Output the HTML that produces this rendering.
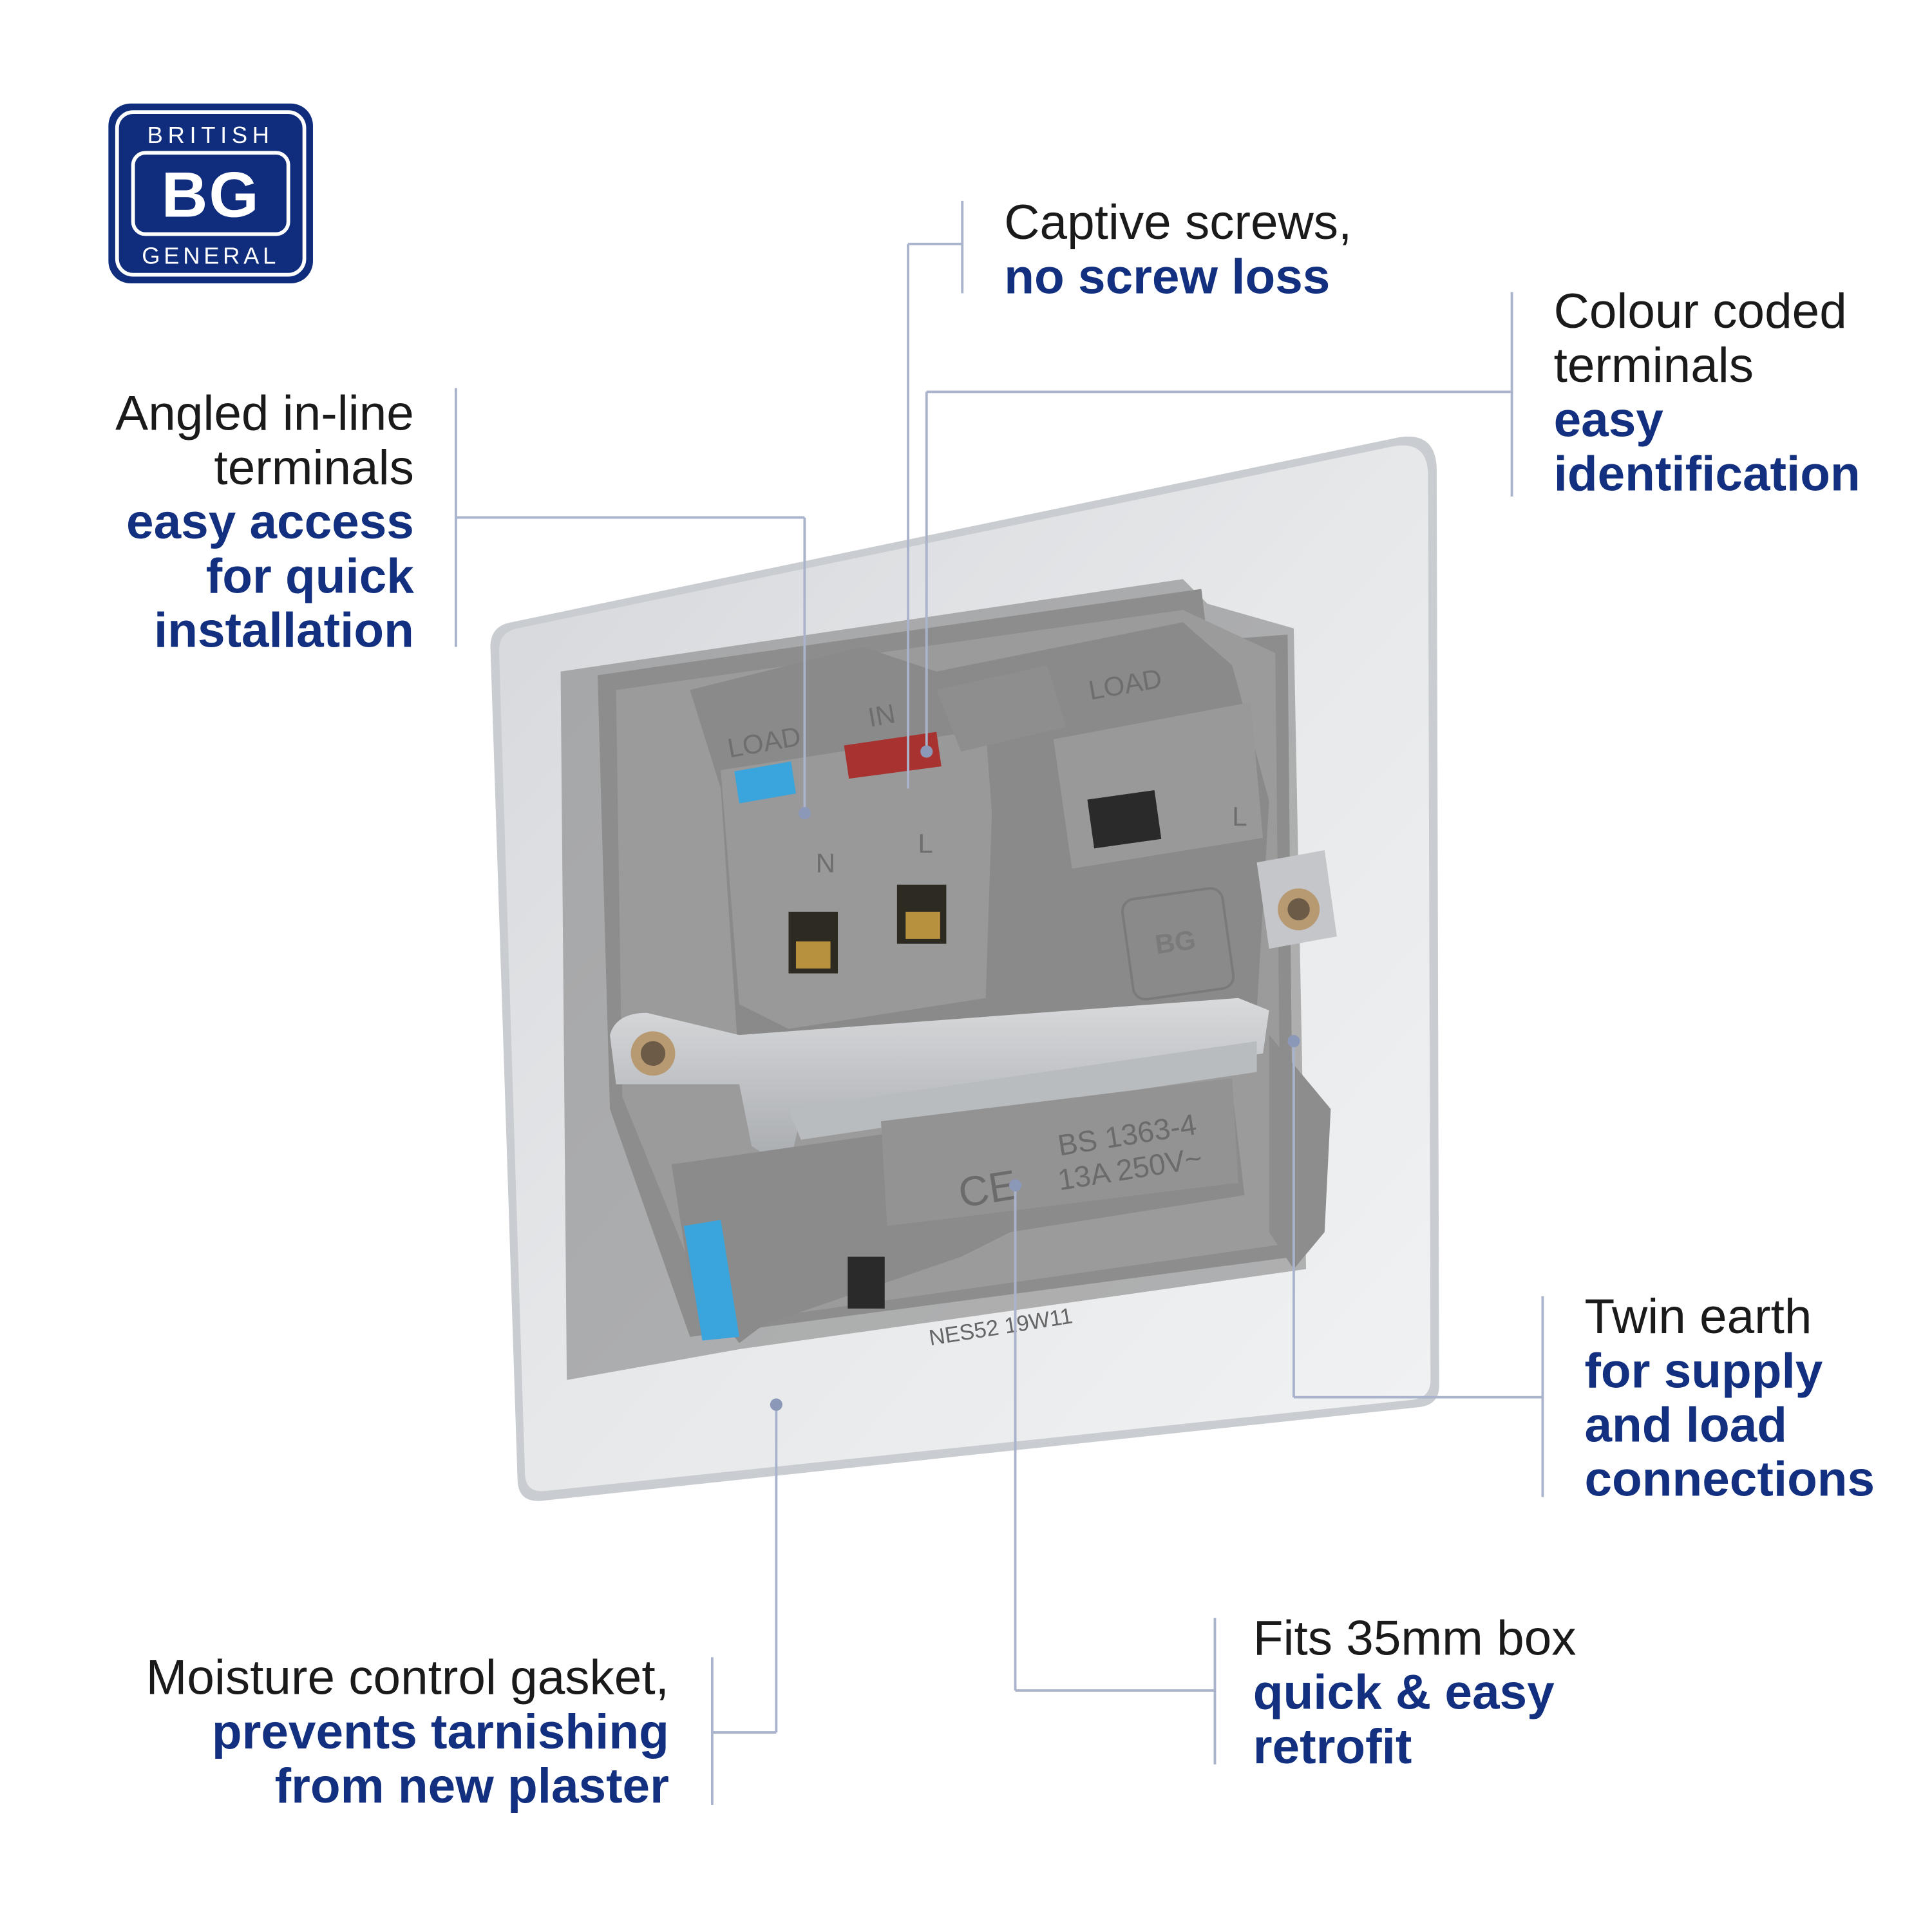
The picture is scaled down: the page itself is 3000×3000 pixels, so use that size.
<!DOCTYPE html>
<html><head><meta charset="utf-8"><style>
html,body{margin:0;padding:0;background:#fff;}
svg{display:block;}
text{font-family:"Liberation Sans",Arial,sans-serif;}
</style></head><body>
<svg width="3000" height="3000" viewBox="0 0 1568 1568" xmlns="http://www.w3.org/2000/svg">
<defs>
<linearGradient id="plate" x1="0" y1="0" x2="1" y2="1">
<stop offset="0" stop-color="#d4d6da"/><stop offset="0.5" stop-color="#e6e8ea"/><stop offset="1" stop-color="#f1f2f3"/>
</linearGradient>
<linearGradient id="metal" x1="0" y1="0" x2="0" y2="1">
<stop offset="0" stop-color="#d8dadc"/><stop offset="1" stop-color="#a6a9ad"/>
</linearGradient>
</defs>
<rect width="1568" height="1568" fill="#fff"/>

<!-- logo -->
<rect x="88" y="84" width="166" height="146" rx="18" fill="#0f2d7c"/>
<rect x="95" y="91" width="152" height="132" rx="13" fill="none" stroke="#fff" stroke-width="3"/>
<text x="171" y="116" font-size="19" fill="#fff" text-anchor="middle" letter-spacing="4">BRITISH</text>
<rect x="108" y="124" width="126" height="66" rx="10" fill="none" stroke="#fff" stroke-width="3"/>
<text x="171" y="176" font-size="52" font-weight="bold" fill="#fff" text-anchor="middle" letter-spacing="1">BG</text>
<text x="171" y="214" font-size="19" fill="#fff" text-anchor="middle" letter-spacing="3">GENERAL</text>

<!-- plate -->
<path d="M398 525 Q398 508 415 505 L1135 355 Q1165 350 1166 380 L1168 1125 Q1168 1140 1152 1142 L440 1218 Q420 1220 420 1200 Z" fill="#c9ccd0"/>
<path d="M405 528 Q405 513 420 510 L1132 362 Q1158 358 1159 384 L1161 1120 Q1161 1134 1147 1136 L443 1210 Q426 1212 426 1195 Z" fill="url(#plate)"/>
<path d="M455 545 L960 470 L980 490 L1050 510 L1060 1030 L600 1095 L460 1120 Z" fill="#7c7c7c" opacity="0.55"/>
<path d="M485 548 L975 478 L980 520 L1045 515 L1050 1020 L560 1085 L495 900 Z" fill="#8d8d8d"/>
<path d="M500 560 L960 495 L1035 530 L1040 1010 L580 1075 L505 890 Z" fill="#9b9b9b"/>
<path d="M560 560 L700 525 L760 545 L960 505 L1000 540 L1030 650 L1020 820 L720 880 L600 870 L585 640 Z" fill="#8a8a8a"/>
<path d="M585 625 L800 592 L805 660 L800 810 L640 835 L600 815 Z" fill="#999"/>
<path d="M760 560 L850 540 L865 590 L780 610 Z" fill="#8e8e8e"/>
<path d="M855 600 L1015 570 L1025 680 L870 705 Z" fill="#999"/>
<rect x="885" y="645" width="55" height="40" fill="#2a2a2a" transform="rotate(-8 912 665)"/>
<path d="M596 626 L642 618 L646 644 L600 652 Z" fill="#3aa4dc"/>
<path d="M685 605 L760 594 L764 622 L689 632 Z" fill="#a8322f"/>
<rect x="640" y="740" width="40" height="50" fill="#2d2a22"/>
<rect x="728" y="718" width="40" height="48" fill="#2d2a22"/>
<rect x="735" y="740" width="28" height="22" fill="#b8913e"/>
<rect x="646" y="764" width="28" height="22" fill="#b8913e"/>
<text x="592" y="615" font-size="22" fill="#6e6e6e" transform="rotate(-10 592 615)">LOAD</text>
<text x="706" y="590" font-size="22" fill="#6e6e6e" transform="rotate(-10 706 590)">IN</text>
<text x="885" y="568" font-size="22" fill="#6e6e6e" transform="rotate(-10 885 568)">LOAD</text>
<text x="662" y="708" font-size="22" fill="#6e6e6e">N</text>
<text x="745" y="692" font-size="22" fill="#6e6e6e">L</text>
<text x="1000" y="670" font-size="22" fill="#6e6e6e">L</text>
<rect x="915" y="725" width="82" height="82" rx="10" fill="none" stroke="#7a7a7a" stroke-width="2" transform="rotate(-8 956 766)"/>
<text x="955" y="772" font-size="22" font-weight="bold" fill="#7a7a7a" text-anchor="middle" transform="rotate(-8 955 772)">BG</text>
<path d="M495 840 Q500 822 525 822 L600 840 L1005 810 L1030 820 L1025 855 L650 905 L640 950 L610 930 L600 880 L540 880 L500 880 Z" fill="url(#metal)"/>
<path d="M640 900 L1020 845 L1020 870 L650 925 Z" fill="#b9bcbf"/>
<circle cx="530" cy="855" r="18" fill="#b89a72"/><circle cx="530" cy="855" r="10" fill="#6b5b47"/>
<path d="M1020 700 L1075 690 L1085 760 L1030 770 Z" fill="#c4c6c9"/>
<circle cx="1054" cy="738" r="17" fill="#b89a72"/><circle cx="1054" cy="738" r="9" fill="#6b5b47"/>
<path d="M545 945 L720 920 L1000 885 L1010 970 L820 1000 L780 1020 L620 1075 L600 1090 L560 1040 Z" fill="#8b8b8b"/>
<path d="M715 910 L1000 875 L1005 960 L720 995 Z" fill="#939393"/>
<text x="860" y="938" font-size="24" fill="#6b6b6b" transform="rotate(-9 860 938)">BS 1363-4</text>
<text x="860" y="966" font-size="24" fill="#6b6b6b" transform="rotate(-9 860 966)">13A 250V~</text>
<text x="780" y="980" font-size="34" fill="#6b6b6b" transform="rotate(-9 780 980)">CE</text>
<path d="M555 995 L585 990 L600 1085 L570 1088 Z" fill="#3aa4dc"/>
<rect x="688" y="1020" width="30" height="42" fill="#2a2a2a"/>
<path d="M1030 840 L1080 900 L1075 1000 L1050 1030 L1030 1000 Z" fill="#8d8d8d"/>
<text x="755" y="1092" font-size="18" fill="#666" font-family="Liberation Mono" transform="rotate(-9 755 1092)">NES52  19W11</text>

<g stroke="#a9b3cb" stroke-width="2" fill="none">
<path d="M781 163 V238 M737 198 H781 M737 198 V640"/>
<path d="M1227 237 V403 M752 318 H1227 M752 318 V610"/>
<path d="M370 315 V525 M370 420 H653 M653 420 V660"/>
<path d="M1252 1052 V1215 M1050 1134 H1252 M1050 1134 V845"/>
<path d="M986 1313 V1432 M824 1372 H986 M824 1372 V962"/>
<path d="M578 1345 V1465 M578 1406 H630 M630 1406 V1140"/>
</g>
<g fill="#8b98b8"><circle cx="824" cy="962" r="5"/><circle cx="630" cy="1140" r="5"/><circle cx="653" cy="660" r="5"/><circle cx="752" cy="610" r="5"/><circle cx="1050" cy="845" r="5"/></g>

<g font-size="40">
<text x="815" y="194" fill="#1a1a1a">Captive screws,</text>
<text x="815" y="238" fill="#12307f" font-weight="bold">no screw loss</text>
<text x="1261" y="266" fill="#1a1a1a">Colour coded</text>
<text x="1261" y="310" fill="#1a1a1a">terminals</text>
<text x="1261" y="354" fill="#12307f" font-weight="bold">easy</text>
<text x="1261" y="398" fill="#12307f" font-weight="bold">identification</text>
<g text-anchor="end">
<text x="336" y="349" fill="#1a1a1a">Angled in-line</text>
<text x="336" y="393" fill="#1a1a1a">terminals</text>
<text x="336" y="437" fill="#12307f" font-weight="bold">easy access</text>
<text x="336" y="481" fill="#12307f" font-weight="bold">for quick</text>
<text x="336" y="525" fill="#12307f" font-weight="bold">installation</text>
<text x="543" y="1375" fill="#1a1a1a">Moisture control gasket,</text>
<text x="543" y="1419" fill="#12307f" font-weight="bold">prevents tarnishing</text>
<text x="543" y="1463" fill="#12307f" font-weight="bold">from new plaster</text>
</g>
<text x="1286" y="1082" fill="#1a1a1a">Twin earth</text>
<text x="1286" y="1126" fill="#12307f" font-weight="bold">for supply</text>
<text x="1286" y="1170" fill="#12307f" font-weight="bold">and load</text>
<text x="1286" y="1214" fill="#12307f" font-weight="bold">connections</text>
<text x="1017" y="1343" fill="#1a1a1a">Fits 35mm box</text>
<text x="1017" y="1387" fill="#12307f" font-weight="bold">quick &amp; easy</text>
<text x="1017" y="1431" fill="#12307f" font-weight="bold">retrofit</text>
</g>
</svg>
</body></html>
